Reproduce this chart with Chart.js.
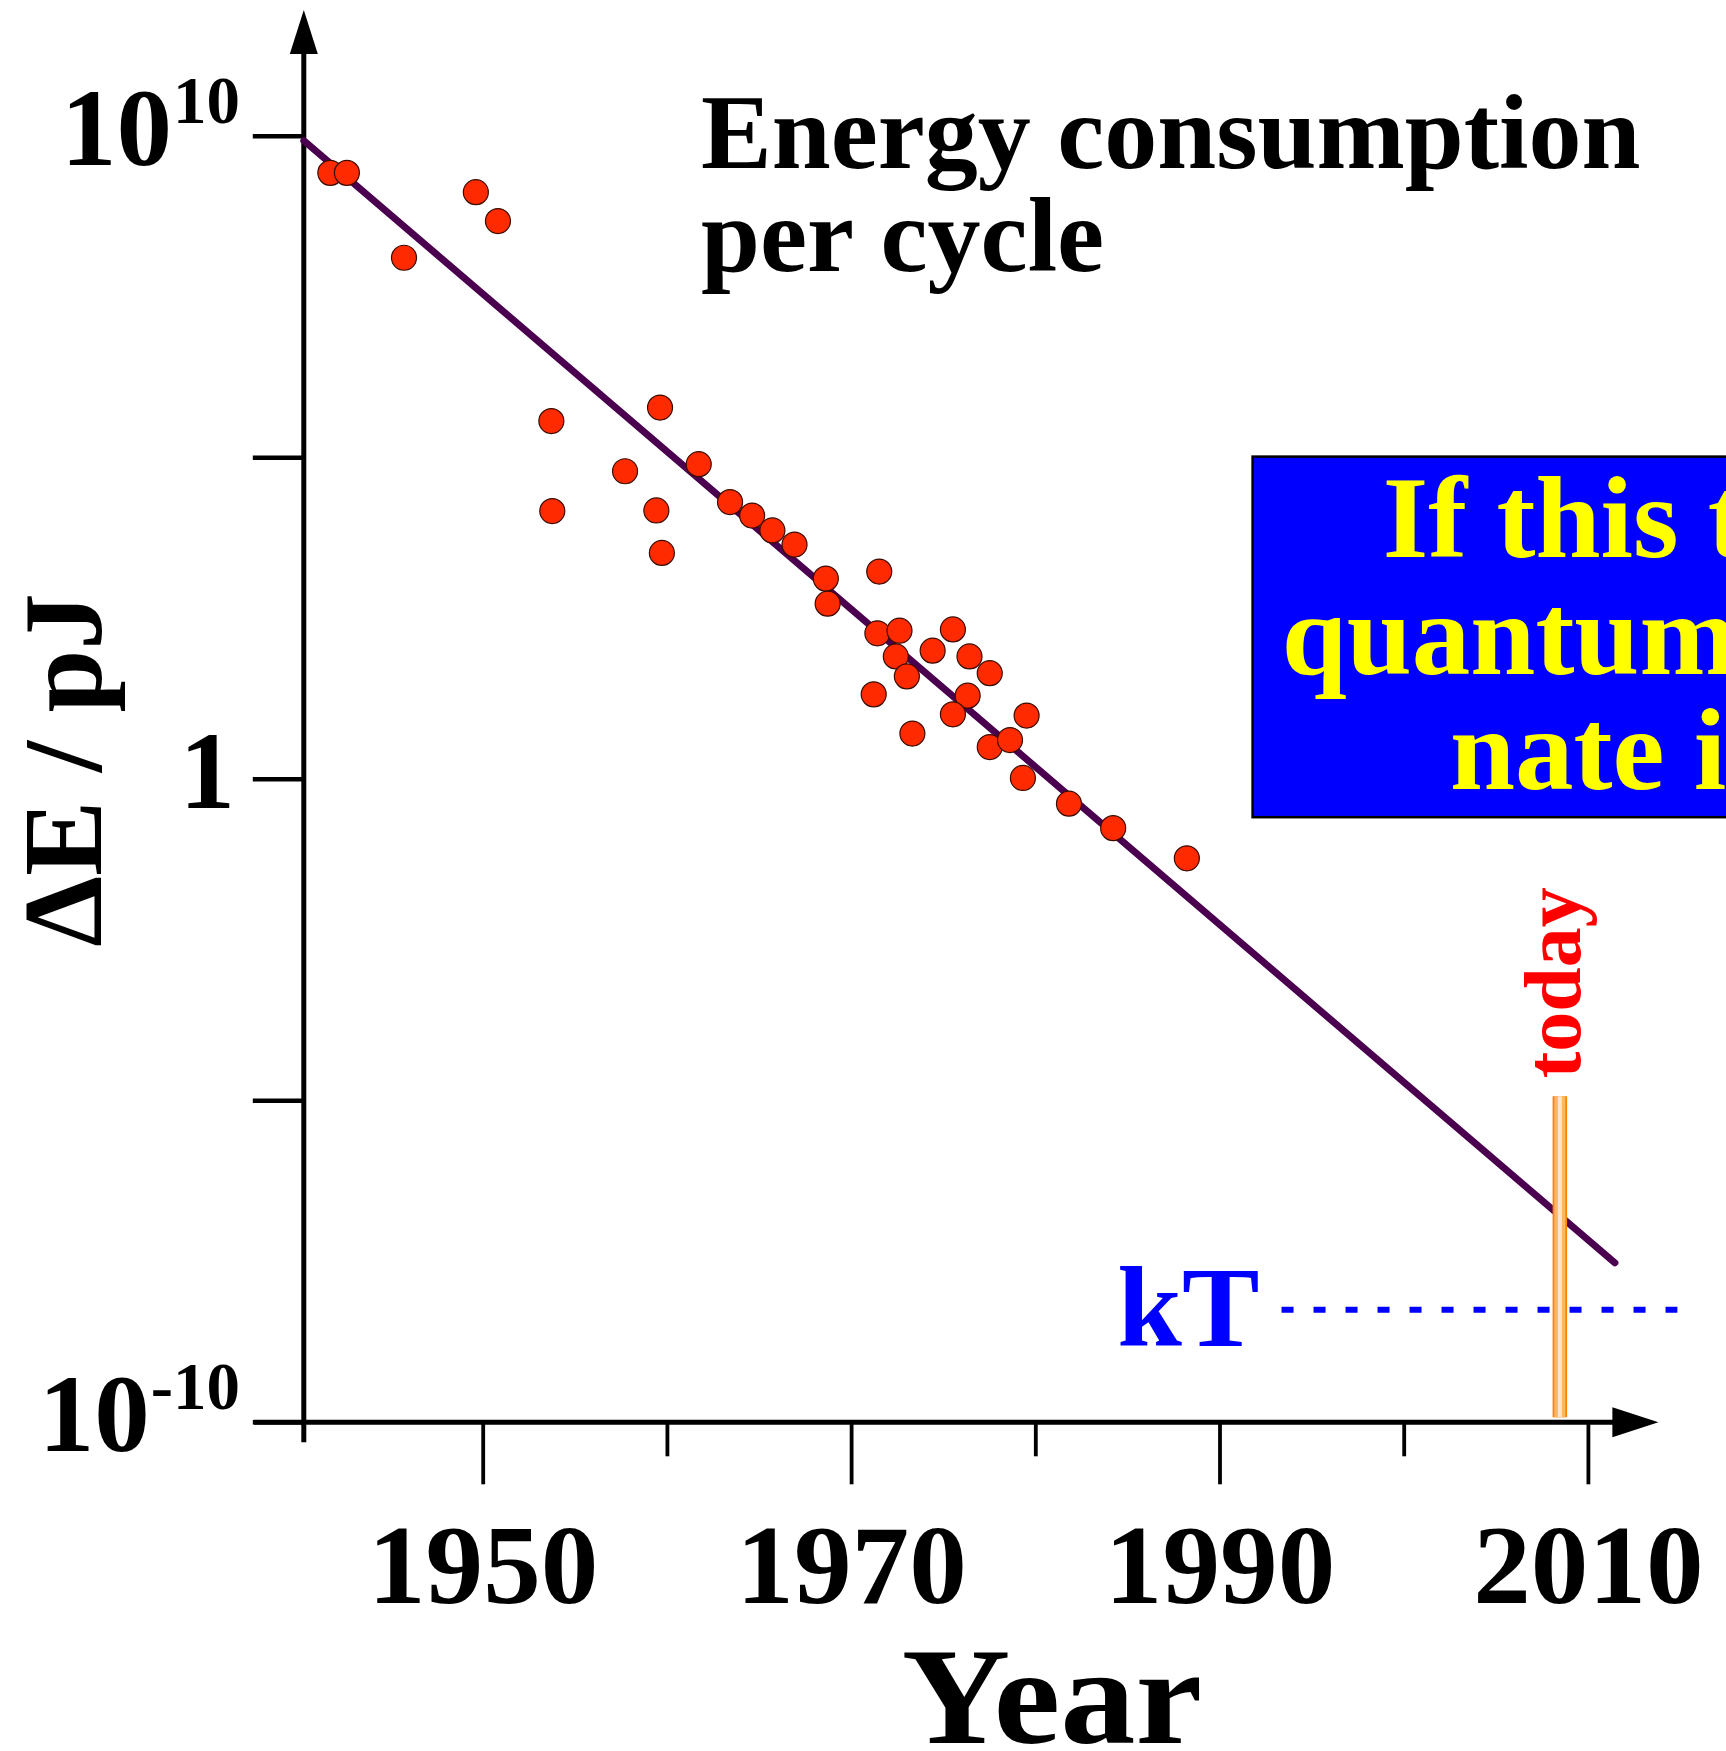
<!DOCTYPE html>
<html>

<head>
    <meta charset="utf-8" />
    <title>Energy consumption per cycle</title>
    <script src="https://cdn.jsdelivr.net/npm/chart.js@4.4.1/dist/chart.umd.min.js"></script>
    <style>
        html,
        body {
            margin: 0;
            padding: 0;
            background: #fff;
            overflow: hidden;
        }

        #wrap {
            width: 1726px;
            height: 1751px;
        }
    </style>
</head>

<body>
    <div id="wrap"><canvas id="myChart" width="1726" height="1751"></canvas></div>
    <script>
        // chips: year and log10(dE / pJ)
        var pointYears = [1941.7, 1942.6, 1945.7, 1949.6, 1950.8, 1953.7, 1953.75, 1957.7, 1959.6, 1959.4,
            1959.7, 1961.7, 1963.4, 1964.6, 1965.7, 1966.9, 1968.6, 1968.7, 1971.5, 1971.4,
            1972.6, 1972.4, 1973.0, 1971.2, 1973.3, 1974.4, 1975.5, 1976.4, 1977.5, 1976.3,
            1975.5, 1977.5, 1978.6, 1979.5, 1979.3, 1981.8, 1984.2, 1988.2];
        var pointExps = [9.43, 9.43, 8.11, 9.13, 8.68, 5.57, 4.17, 4.79, 5.78, 4.18,
            3.52, 4.90, 4.31, 4.10, 3.87, 3.65, 3.12, 2.73, 3.23, 2.27,
            2.31, 1.91, 1.60, 1.32, 0.71, 2.00, 2.33, 1.91, 1.65, 1.30,
            1.01, 0.50, 0.61, 0.99, 0.02, -0.38, -0.76, -1.23];

        // fitted trend
        var trendYears = [1940.26, 2011.44];
        var trendExps = [9.93, -7.52];

        // thermal limit kT
        var kTYears = [1993.34, 2014.83];
        var kTExp = -8.25;

        // "today" marker
        var todayYear = 2008.45;
        var todayExps = [-4.93, -9.92];

        // axes
        var xMajorTicks = [1950, 1970, 1990, 2010];
        var xMinorTicks = [1960, 1980, 2000];
        var yTickExps = [10, 5, 0, -5, -10];
        var yTickBase = ['10', '', '1', '', '10'];
        var yTickSup = ['10', '', '', '', '-10'];
        var xArrowYear = 2013.8;

        var titleLines = ['Energy consumption', 'per cycle'];
        var boxLines = ['If this trend continues,', 'quantum effects domi-', 'nate in 2020'];

        var SERIF = '"Liberation Serif", "Times New Roman", serif';
        function font(size) { return 'bold ' + size + 'px ' + SERIF; }
        function pts(xs, es) { return xs.map(function (v, i) { return { x: v, y: Math.pow(10, es[i]) }; }); }

        // text stretched sideways a little, the original face is wider
        function wideText(ctx, text, x, y, sx) {
            ctx.save();
            ctx.translate(x, y);
            ctx.scale(sx, 1);
            ctx.fillText(text, 0, 0);
            ctx.restore();
        }

        var decorations = {
            id: 'decorations',
            beforeDatasetsDraw: function (chart) {
                var ctx = chart.ctx;
                var xs = chart.scales.x, ys = chart.scales.y;
                var ax = xs.getPixelForValue(xs.min);
                var ay = ys.getPixelForValue(ys.min);
                ctx.save();
                ctx.strokeStyle = '#000';
                ctx.fillStyle = '#000';

                // y axis with arrow
                ctx.lineWidth = 5;
                ctx.beginPath();
                ctx.moveTo(ax, ay + 20);
                ctx.lineTo(ax, 50);
                ctx.stroke();
                ctx.beginPath();
                ctx.moveTo(ax, 10);
                ctx.lineTo(ax + 14, 54);
                ctx.lineTo(ax - 14, 54);
                ctx.closePath();
                ctx.fill();

                // x axis with arrow
                var tipX = xs.getPixelForValue(xArrowYear);
                ctx.beginPath();
                ctx.moveTo(ax - 50, ay);
                ctx.lineTo(tipX - 42, ay);
                ctx.stroke();
                ctx.beginPath();
                ctx.moveTo(tipX, ay);
                ctx.lineTo(tipX - 46, ay - 15);
                ctx.lineTo(tipX - 46, ay + 15);
                ctx.closePath();
                ctx.fill();

                // y ticks
                ctx.lineWidth = 4.5;
                yTickExps.forEach(function (e) {
                    var py = ys.getPixelForValue(Math.pow(10, e));
                    ctx.beginPath();
                    ctx.moveTo(ax - 51, py);
                    ctx.lineTo(ax, py);
                    ctx.stroke();
                });

                // x ticks
                ctx.lineWidth = 3.8;
                xMajorTicks.forEach(function (v) {
                    var px = xs.getPixelForValue(v);
                    ctx.beginPath();
                    ctx.moveTo(px, ay);
                    ctx.lineTo(px, ay + 62);
                    ctx.stroke();
                });
                xMinorTicks.forEach(function (v) {
                    var px = xs.getPixelForValue(v);
                    ctx.beginPath();
                    ctx.moveTo(px, ay);
                    ctx.lineTo(px, ay + 34);
                    ctx.stroke();
                });

                // x tick labels
                ctx.font = font(113);
                ctx.textAlign = 'center';
                ctx.textBaseline = 'alphabetic';
                xMajorTicks.forEach(function (v) {
                    wideText(ctx, String(v), xs.getPixelForValue(v), ay + 181, 1.02);
                });

                // y tick labels with superscripts
                yTickExps.forEach(function (e, i) {
                    if (!yTickBase[i]) return;
                    var py = ys.getPixelForValue(Math.pow(10, e)) + 29;
                    var right = 240;
                    ctx.textAlign = 'right';
                    if (yTickSup[i]) {
                        ctx.font = font(67);
                        ctx.fillText(yTickSup[i], right, py - 42);
                        right -= ctx.measureText(yTickSup[i]).width + 1;
                    } else {
                        right -= 5;
                    }
                    ctx.font = font(111);
                    ctx.fillText(yTickBase[i], right, py);
                });

                // axis titles
                ctx.font = font(138);
                ctx.textAlign = 'center';
                wideText(ctx, 'Year', 1052, 1743, 1.09);

                ctx.save();
                ctx.translate(101, 770);
                ctx.rotate(-Math.PI / 2);
                ctx.font = font(113);
                ctx.fillText('\u0394E / pJ', 0, 0);
                ctx.restore();

                // chart title
                ctx.font = font(106);
                ctx.textAlign = 'left';
                ctx.fillText(titleLines[0], 701, 167.5);
                ctx.fillText(titleLines[1], 701, 271.3);

                // blue note box (runs past the right edge)
                ctx.fillStyle = '#0000FF';
                ctx.fillRect(1252.6, 456.6, 600, 360.6);
                ctx.lineWidth = 2.5;
                ctx.strokeStyle = '#000';
                ctx.strokeRect(1252.6, 456.6, 600, 360.6);
                ctx.fillStyle = '#FFFF00';
                ctx.font = font(117);
                ctx.fillText(boxLines[0], 1382.7, 556.7);
                ctx.fillText(boxLines[1], 1281.7, 674);
                ctx.fillText(boxLines[2], 1450, 789.3);

                // kT label
                var kx = xs.getPixelForValue(kTYears[0]);
                var ky = ys.getPixelForValue(Math.pow(10, kTExp));
                ctx.fillStyle = '#0000FF';
                ctx.font = font(114);
                ctx.textAlign = 'right';
                wideText(ctx, 'kT', kx - 22, ky + 36, 1.02);

                // today label
                var tx = xs.getPixelForValue(todayYear);
                var ty = ys.getPixelForValue(Math.pow(10, todayExps[0]));
                ctx.save();
                ctx.translate(tx + 20, ty - 18);
                ctx.rotate(-Math.PI / 2);
                ctx.fillStyle = '#FF0000';
                ctx.font = font(80);
                ctx.textAlign = 'left';
                ctx.fillText('today', 0, 0);
                ctx.restore();

                ctx.restore();
            }
        };

        var todayData = todayExps.map(function (e) { return { x: todayYear, y: Math.pow(10, e) }; });
        var lineBase = { showLine: true, pointRadius: 0, clip: false, borderCapStyle: 'butt' };

        var myChart = new Chart(document.getElementById('myChart'), {
            type: 'scatter',
            data: {
                datasets: [
                    {
                        label: 'chips',
                        data: pts(pointYears, pointExps),
                        showLine: false,
                        pointRadius: 12.5,
                        pointBackgroundColor: '#FF2A00',
                        pointBorderColor: '#3a0c00',
                        pointBorderWidth: 1.2,
                        clip: false
                    },
                    Object.assign({ label: 'today core', data: todayData, borderColor: '#FFE4C6', borderWidth: 4 }, lineBase),
                    Object.assign({ label: 'today mid', data: todayData, borderColor: '#FFB766', borderWidth: 11 }, lineBase),
                    Object.assign({ label: 'today', data: todayData, borderColor: '#FF8200', borderWidth: 14.5 }, lineBase),
                    Object.assign({}, lineBase, {
                        label: 'trend', data: pts(trendYears, trendExps),
                        borderColor: '#4B004F', borderWidth: 7, borderCapStyle: 'round'
                    }),
                    Object.assign({
                        label: 'kT', data: kTYears.map(function (v) { return { x: v, y: Math.pow(10, kTExp) }; }),
                        borderColor: '#0000FF', borderWidth: 6, borderDash: [12, 20]
                    }, lineBase)
                ]
            },
            options: {
                responsive: false,
                devicePixelRatio: 1,
                animation: false,
                events: [],
                layout: { autoPadding: false, padding: { left: 303.8, right: 0, top: 7.6, bottom: 328.7 } },
                plugins: {
                    legend: { display: false },
                    tooltip: { enabled: false }
                },
                scales: {
                    x: { type: 'linear', min: 1940.26, max: 2017.47, display: false },
                    y: { type: 'logarithmic', min: 1e-10, max: 1e12, display: false }
                }
            },
            plugins: [decorations]
        });
    </script>
</body>

</html>
